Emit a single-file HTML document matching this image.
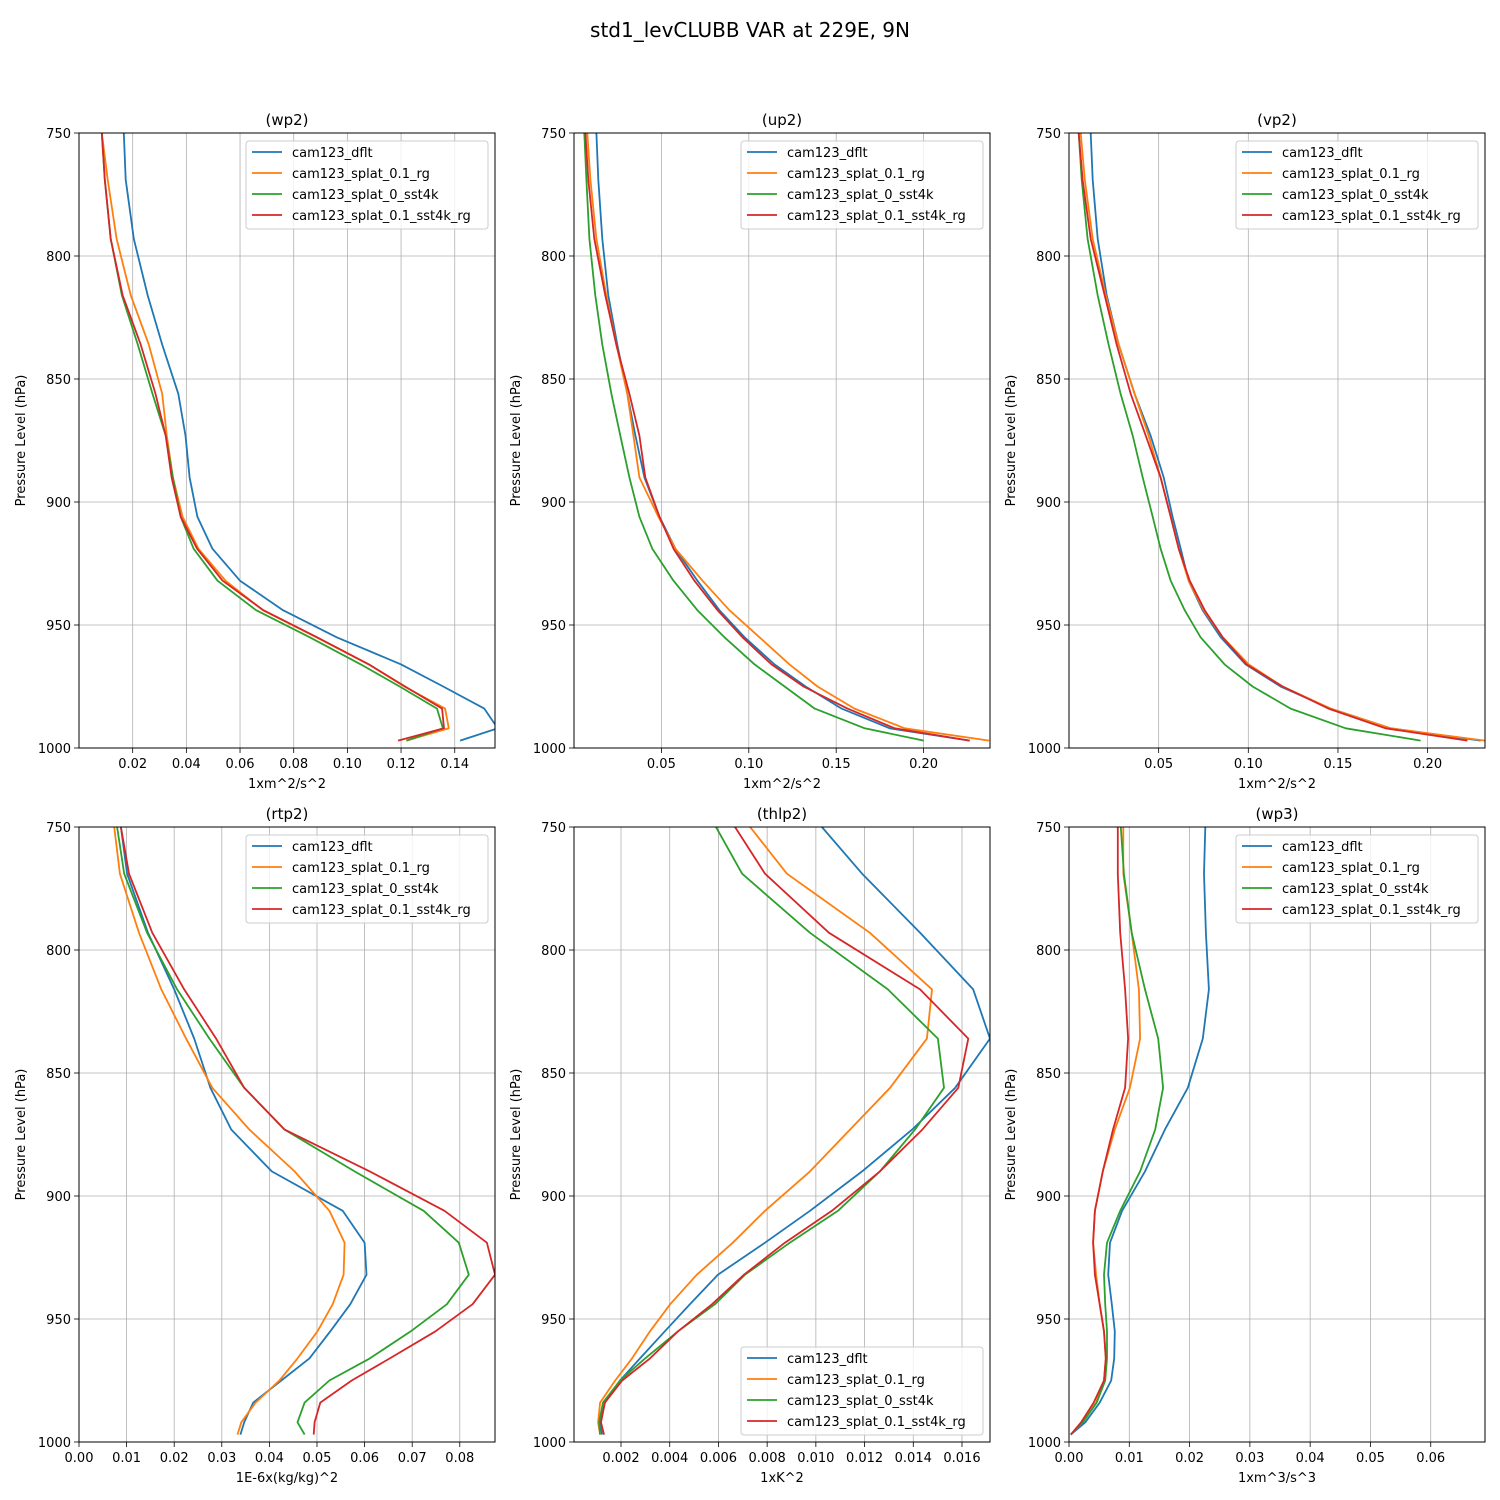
<!DOCTYPE html>
<html><head><meta charset="utf-8"><style>
html,body{margin:0;padding:0;background:#fff}
svg{display:block;font-family:"DejaVu Sans","Liberation Sans",sans-serif}
</style></head><body>
<svg id="fig" width="1500" height="1500" viewBox="0 0 1500 1500" xmlns="http://www.w3.org/2000/svg">
<rect width="1500" height="1500" fill="#fff"/>
<text x="750" y="37" font-size="20" text-anchor="middle">std1_levCLUBB VAR at 229E, 9N</text>
</svg>
<script>
const levels=[750,769,793,816,836,856,873,890,906,919,932,944,955,966,975,984,992,997];
const seriesNames=["cam123_dflt","cam123_splat_0.1_rg","cam123_splat_0_sst4k","cam123_splat_0.1_sst4k_rg"];
const colors=["#1f77b4","#ff7f0e","#2ca02c","#d62728"];
const yTicks=[750,800,850,900,950,1000];

const wp2_dflt=[0.0167,0.0174,0.0204,0.0256,0.031,0.037,0.0397,0.0412,0.0441,0.0497,0.060,0.076,0.096,0.120,0.1357,0.151,0.156,0.142];
const wp2_rg=[0.0085,0.0107,0.014,0.0193,0.026,0.031,0.0327,0.035,0.0386,0.0445,0.0546,0.0685,0.0885,0.108,0.1212,0.1364,0.1378,0.122];
const wp2_sst4k=[0.0085,0.0096,0.0118,0.016,0.0219,0.0274,0.0323,0.035,0.0379,0.0427,0.0516,0.066,0.086,0.105,0.1195,0.1334,0.1356,0.122];
const wp2_sst4k_rg=[0.0085,0.0096,0.0118,0.0163,0.023,0.0285,0.0323,0.0345,0.0379,0.044,0.0535,0.0687,0.0887,0.108,0.1215,0.1353,0.136,0.1189];
const wp2_ticks=[0.02,0.04,0.06,0.08,0.10,0.12,0.14];

const up2_dflt=[0.0128,0.0139,0.0162,0.0196,0.0248,0.0305,0.0351,0.0403,0.0489,0.058,0.0706,0.0832,0.0976,0.1147,0.1325,0.1531,0.1806,0.2264];
const up2_rg=[0.0076,0.0094,0.0128,0.0185,0.0242,0.0305,0.034,0.0374,0.0483,0.058,0.0735,0.0889,0.1061,0.1233,0.1393,0.1605,0.1892,0.2375];
const up2_sst4k=[0.0059,0.0071,0.0088,0.0122,0.0162,0.0214,0.0265,0.0317,0.0374,0.0448,0.0569,0.0706,0.0861,0.1033,0.1205,0.1377,0.1663,0.2001];
const up2_sst4k_rg=[0.0065,0.0082,0.0116,0.0179,0.0242,0.0317,0.0374,0.0408,0.0489,0.0569,0.0689,0.0821,0.0964,0.113,0.1313,0.1565,0.1835,0.2264];
const up2_ticks=[0.05,0.10,0.15,0.20];

const vp2_dflt=[0.0121,0.0132,0.016,0.021,0.0277,0.0366,0.0455,0.0528,0.0578,0.0623,0.0667,0.0745,0.0846,0.0985,0.118,0.1459,0.1794,0.2296];
const vp2_rg=[0.0065,0.0088,0.0132,0.0205,0.0277,0.0366,0.0444,0.0511,0.0567,0.0612,0.0667,0.0751,0.0857,0.1002,0.1191,0.1459,0.1794,0.232];
const vp2_sst4k=[0.0054,0.0071,0.0104,0.016,0.0221,0.0288,0.0355,0.0411,0.0467,0.0511,0.0567,0.0645,0.0734,0.0868,0.1024,0.1236,0.1543,0.1961];
const vp2_sst4k_rg=[0.0054,0.0076,0.0121,0.0199,0.0266,0.0344,0.0428,0.0511,0.0567,0.0612,0.0673,0.0757,0.0857,0.099,0.1191,0.1447,0.1765,0.2222];
const vp2_ticks=[0.05,0.10,0.15,0.20];

const rtp2_dflt=[0.0088,0.0101,0.0145,0.02,0.0242,0.0276,0.032,0.0405,0.0554,0.060,0.0604,0.057,0.0528,0.0484,0.0425,0.0366,0.0347,0.0339];
const rtp2_rg=[0.0074,0.0086,0.0126,0.0173,0.0225,0.028,0.0358,0.0453,0.0526,0.0558,0.0556,0.0533,0.0501,0.0459,0.0421,0.0371,0.0341,0.0333];
const rtp2_sst4k=[0.008,0.0095,0.0143,0.0206,0.0274,0.0347,0.0432,0.0579,0.0724,0.0798,0.0819,0.0773,0.0697,0.0611,0.0526,0.0474,0.0459,0.0474];
const rtp2_sst4k_rg=[0.0088,0.0105,0.0154,0.0221,0.0288,0.0347,0.0432,0.0611,0.0768,0.0857,0.0874,0.0827,0.0749,0.0653,0.0573,0.0507,0.0495,0.0493];
const rtp2_ticks=[0.00,0.01,0.02,0.03,0.04,0.05,0.06,0.07,0.08];

const thlp2_dflt=[0.01025,0.0119,0.01428,0.01646,0.01715,0.01572,0.01395,0.0119,0.00976,0.00791,0.00598,0.00483,0.0038,0.00278,0.00196,0.00134,0.00114,0.00122];
const thlp2_rg=[0.0073,0.00881,0.01222,0.01477,0.01456,0.01305,0.0114,0.00976,0.00791,0.00659,0.00511,0.00402,0.00319,0.00245,0.00176,0.00114,0.00106,0.00114];
const thlp2_sst4k=[0.0059,0.00697,0.00976,0.01296,0.01501,0.01526,0.01407,0.01263,0.01091,0.00893,0.00709,0.00586,0.00434,0.00299,0.00196,0.00126,0.0011,0.00114];
const thlp2_sst4k_rg=[0.00668,0.00791,0.01054,0.01428,0.01626,0.01585,0.01437,0.01263,0.01066,0.00873,0.00705,0.00574,0.00434,0.00319,0.00205,0.00134,0.00118,0.0013];
const thlp2_ticks=[0.002,0.004,0.006,0.008,0.010,0.012,0.014,0.016];

const wp3_dflt=[0.0226,0.0224,0.0227,0.0232,0.0222,0.0197,0.0159,0.0126,0.0088,0.0068,0.0065,0.0071,0.0076,0.0075,0.007,0.0051,0.0027,0.0003];
const wp3_rg=[0.009,0.009,0.0104,0.0116,0.0118,0.0101,0.0076,0.0056,0.0043,0.004,0.0045,0.0051,0.0058,0.0061,0.0058,0.0045,0.0022,0.0003];
const wp3_sst4k=[0.0086,0.0091,0.0104,0.0126,0.0148,0.0156,0.0143,0.0118,0.0085,0.0063,0.0058,0.006,0.0063,0.0063,0.006,0.0046,0.0023,0.0003];
const wp3_sst4k_rg=[0.0081,0.0081,0.0085,0.0093,0.0098,0.0093,0.0073,0.0056,0.0043,0.004,0.0043,0.0051,0.0058,0.0061,0.0058,0.0041,0.002,0.0003];
const wp3_ticks=[0.00,0.01,0.02,0.03,0.04,0.05,0.06];

const NS="http://www.w3.org/2000/svg";
const svg=document.getElementById("fig");
function mk(tag,attrs,parent,text){const e=document.createElementNS(NS,tag);for(const k in attrs)e.setAttribute(k,attrs[k]);if(text!==undefined)e.textContent=text;(parent||svg).appendChild(e);return e;}

const panels=[
 {id:"wp2",x0:79,y0:133,xmin:0,xmax:0.155,ticks:wp2_ticks,dec:2,xlabel:"1xm^2/s^2",data:[wp2_dflt,wp2_rg,wp2_sst4k,wp2_sst4k_rg],leg:"top"},
 {id:"up2",x0:574,y0:133,xmin:0,xmax:0.238,ticks:up2_ticks,dec:2,xlabel:"1xm^2/s^2",data:[up2_dflt,up2_rg,up2_sst4k,up2_sst4k_rg],leg:"top"},
 {id:"vp2",x0:1069,y0:133,xmin:0,xmax:0.232,ticks:vp2_ticks,dec:2,xlabel:"1xm^2/s^2",data:[vp2_dflt,vp2_rg,vp2_sst4k,vp2_sst4k_rg],leg:"top"},
 {id:"rtp2",x0:79,y0:827,xmin:0,xmax:0.0874,ticks:rtp2_ticks,dec:2,xlabel:"1E-6x(kg/kg)^2",data:[rtp2_dflt,rtp2_rg,rtp2_sst4k,rtp2_sst4k_rg],leg:"top"},
 {id:"thlp2",x0:574,y0:827,xmin:0.00007,xmax:0.01715,ticks:thlp2_ticks,dec:3,xlabel:"1xK^2",data:[thlp2_dflt,thlp2_rg,thlp2_sst4k,thlp2_sst4k_rg],leg:"bottom"},
 {id:"wp3",x0:1069,y0:827,xmin:0,xmax:0.069,ticks:wp3_ticks,dec:2,xlabel:"1xm^3/s^3",data:[wp3_dflt,wp3_rg,wp3_sst4k,wp3_sst4k_rg],leg:"top"}
];
const W=416,H=615;
panels.forEach((p,pi)=>{
 const g=mk("g",{});
 
 
 const sx=v=>p.x0+(v-p.xmin)/(p.xmax-p.xmin)*W;
 const sy=v=>p.y0+(v-750)/250*H;
 const cid="clip"+pi;
 const cp=mk("clipPath",{id:cid},g);mk("rect",{x:p.x0,y:p.y0,width:W,height:H},cp);
 p.ticks.forEach(t=>{const x=sx(t);
  const l=mk("line",{x1:x,x2:x,y1:p.y0,y2:p.y0+H,stroke:"#b0b0b0","stroke-width":0.8},g);
  
  
  mk("line",{x1:x,x2:x,y1:p.y0+H,y2:p.y0+H+5,stroke:"#000","stroke-width":0.8},g);
  const tl=mk("text",{x:x,y:p.y0+H+20,"font-size":13,"text-anchor":"middle"},g,t.toFixed(p.dec));
  
  
 });
 yTicks.forEach(t=>{const y=sy(t);
  const l=mk("line",{x1:p.x0,x2:p.x0+W,y1:y,y2:y,stroke:"#b0b0b0","stroke-width":0.8},g);
  
  
  mk("line",{x1:p.x0-5,x2:p.x0,y1:y,y2:y,stroke:"#000","stroke-width":0.8},g);
  const tl=mk("text",{x:p.x0-8,y:y+5,"font-size":13,"text-anchor":"end"},g,String(t));
  
  
 });
 p.data.forEach((arr,si)=>{
  const pts=arr.map((v,i)=>sx(v).toFixed(1)+","+sy(levels[i]).toFixed(1)).join(" ");
  const pl=mk("polyline",{points:pts,fill:"none",stroke:colors[si],"stroke-width":1.8,"stroke-linejoin":"round","clip-path":"url(#"+cid+")"},g);
  
  
 });
 const fr=mk("rect",{x:p.x0,y:p.y0,width:W,height:H,fill:"none",stroke:"#000","stroke-width":1},g);
 
 
 const ti=mk("text",{x:p.x0+W/2,y:p.y0-8,"font-size":15,"text-anchor":"middle"},g,"("+p.id+")");
 
 
 const xl=mk("text",{x:p.x0+W/2,y:p.y0+H+40,"font-size":13,"text-anchor":"middle"},g,p.xlabel);
 
 
 const yx=p.x0-54,yy=p.y0+H/2;
 const yl=mk("text",{x:yx,y:yy,"font-size":13,"text-anchor":"middle",transform:"rotate(-90 "+yx+" "+yy+")"},g,"Pressure Level (hPa)");
 
 
 const lx=p.x0+W-249, ly=p.leg==="top"?p.y0+8:p.y0+H-95;
 const lg=mk("g",{},g);
 
 
 mk("rect",{x:lx,y:ly,width:242,height:88,rx:3,fill:"#fff","fill-opacity":0.8,stroke:"#ccc","stroke-width":1},lg);
 seriesNames.forEach((n,si)=>{
  const ey=ly+11+si*21;
  const e=mk("g",{},lg);
  
  
  mk("line",{x1:lx+6,x2:lx+36,y1:ey,y2:ey,stroke:colors[si],"stroke-width":1.8},e);
  mk("text",{x:lx+46,y:ey+5,"font-size":13},e,n);
 });
});
</script>
</body></html>
